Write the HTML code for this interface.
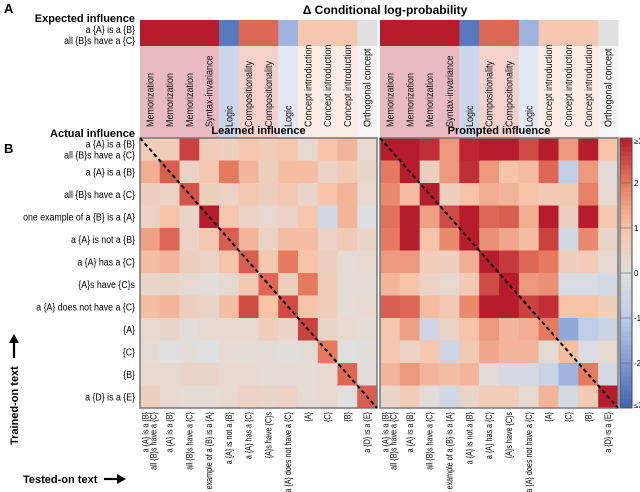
<!DOCTYPE html>
<html><head><meta charset="utf-8"><style>
html,body{margin:0;padding:0;background:#fff;overflow:hidden;}
svg{display:block;font-family:"Liberation Sans",Arial,sans-serif;}
</style></head><body>
<svg id="fig" width="640" height="492" viewBox="0 0 640 492">
<g id="static">
<text x="4" y="13" font-size="13" font-weight="bold">A</text>
<text x="385" y="14" font-size="12" font-weight="bold" text-anchor="middle">Δ Conditional log-probability</text>
<text x="135" y="22" font-size="11" font-weight="bold" text-anchor="end">Expected influence</text>
<text transform="translate(135,33) scale(0.88,1)" font-size="10" text-anchor="end">a {A} is a {B}</text>
<text transform="translate(135,44) scale(0.88,1)" font-size="10" text-anchor="end">all {B}s have a {C}</text>
<text x="135" y="137" font-size="11" font-weight="bold" text-anchor="end">Actual influence</text>
<text x="4" y="153" font-size="13" font-weight="bold">B</text>
<text transform="translate(18,445) rotate(-90)" font-size="11" font-weight="bold">Trained-on text</text>
<g><line x1="14" y1="358" x2="14" y2="340" stroke="#000" stroke-width="2.2"/><path d="M9,343 L14,334 L19,343 Z" fill="#000"/></g>
<text x="23" y="483" font-size="11" font-weight="bold">Tested-on text</text>
<g><line x1="104" y1="479" x2="120" y2="479" stroke="#000" stroke-width="2.2"/><path d="M117,474 L126,479 L117,484 Z" fill="#000"/></g>
</g>
<g id="top"></g>
<g id="mats"></g>
<g id="cbar"></g>
</svg>
<script>
const NS="http://www.w3.org/2000/svg";
// ---- data ----
const categories=["a {A} is a {B} | all {B}s have a {C}","a {A} is a {B}","all {B}s have a {C}","one example of a {B} is a {A}","a {A} is not a {B}","a {A} has a {C}","{A}s have {C}s","a {A} does not have a {C}","{A}","{C}","{B}","a {D} is a {E}"];
const expectedLabels=["Memorization","Memorization","Memorization","Syntax-invariance","Logic","Compositionality","Compositionality","Logic","Concept introduction","Concept introduction","Concept introduction","Orthogonal concept"];
const expectedValues=[3,3,3,3,-2.6,2.2,2.2,-1.5,0.9,0.9,0.9,0];
const learned=[
[0.7,0.7,2.6,0.7,0.6,0.9,0.7,0.9,0.3,1.0,1.2,0.3],
[1.3,2.3,0.5,0.9,2.0,1.2,0.6,1.1,1.1,0.5,0.8,0.4],
[0.6,0.5,2.4,0.6,0.5,0.8,0.6,0.8,0.4,1.0,1.2,0.3],
[0.5,1.0,0.4,3.0,0.9,0.5,0.3,0.5,0.9,-0.4,1.2,-0.1],
[1.5,2.2,0.5,0.9,2.3,1.2,0.5,1.1,1.1,0.5,0.8,0.4],
[1.1,1.2,0.6,0.5,1.0,2.3,0.9,2.0,1.0,0.6,0.2,0.3],
[0.4,0.4,0.3,0.1,0.3,0.8,2.2,0.6,2.0,0.7,0.2,0.2],
[1.1,1.2,0.6,0.4,1.1,2.5,1.0,2.5,1.0,0.7,0.2,0.3],
[0.3,0.4,0.1,0.3,0.3,0.3,0.7,0.4,2.6,0.4,0.3,0.2],
[0.2,0.0,0.1,0.0,0.2,0.2,0.2,0.1,0.2,2.0,0.0,0.1],
[0.3,0.3,0.4,0.4,0.3,0.3,0.2,0.2,0.2,0.3,2.2,0.1],
[0.6,0.3,0.2,0.2,0.3,0.5,0.4,0.5,0.2,0.3,0.0,2.3]];
const prompted=[
[3,3,2.8,1.6,2.9,3,3,2.5,3,1.6,3,1.0],
[2.0,3,0.6,1.6,2.8,1.6,1.0,1.1,2.2,-0.8,1.6,0.2],
[1.8,1.1,3,0.6,1.0,1.3,1.2,1.0,0.8,0.8,1.9,0.3],
[2.1,3,1.5,2.5,3,2.2,2.3,1.3,3,0.6,3,0.9],
[2.0,3,1.0,1.8,3,1.7,1.4,1.1,2.6,-0.4,1.8,0.4],
[1.6,1.6,0.7,0.6,1.3,3,2.7,2.2,2.0,0.6,0.7,0.3],
[1.2,1.0,0.5,0.3,0.8,2.5,3,1.6,1.7,-0.2,-0.2,-0.3],
[2.3,2.2,1.1,0.8,1.8,3,3,2.6,2.8,1.0,1.0,0.6],
[0.9,1.5,-0.5,0.5,1.0,1.6,1.2,1.3,2.0,-1.7,-0.9,-0.6],
[0.9,0.5,0.9,-0.5,0.8,1.4,1.2,1.2,0.2,1.1,-0.2,0.3],
[1.2,1.6,1.2,1.1,1.2,0.1,-0.3,-0.3,-0.6,-1.5,2.0,-0.3],
[0.4,0.7,0.1,-0.4,0.4,0.7,0.7,0.3,1.2,-0.3,0.8,3]];
const cbarTicks=["≥3","2","1","0","-1","-2","≤3"];
const cbarTickValues=[3,2,1,0,-1,-2,-3];
// ---- scales ----
const top0=138, bot0=408, n=12;
const panels=[{x0:140,x1:377,data:learned,title:"Learned influence",key:"learned"},{x0:380,x1:618,data:prompted,title:"Prompted influence",key:"prompted"}];
const yScale=v=>top0+(3-v)/6*(bot0-top0);
const stops=[[-3,[64,98,176]],[-2,[127,154,211]],[-1,[188,203,232]],[0,[223,223,223]],[1,[247,196,168]],[2,[229,122,95]],[3,[183,28,44]]];
function color(v){v=Math.max(-3,Math.min(3,v));for(let i=0;i<stops.length-1;i++){const [a,ca]=stops[i],[b,cb]=stops[i+1];if(v<=b){const t=(v-a)/(b-a);return 'rgb('+ca.map((c,k)=>Math.round(c+(cb[k]-c)*t)).join(',')+')';}}return 'rgb(183,28,44)';}
function tint(v,a){const c=color(v).match(/\d+/g).map(Number);return 'rgb('+c.map(x=>Math.round(x*a+255*(1-a))).join(',')+')';}
function el(tag,attrs,parent){const e=document.createElementNS(NS,tag);for(const k in attrs)e.setAttribute(k,attrs[k]);parent.appendChild(e);return e;}
const gTop=document.getElementById('top'),gM=document.getElementById('mats'),gC=document.getElementById('cbar');
panels.forEach((p)=>{
  const cw=(p.x1-p.x0)/n, rh=(bot0-top0)/n;
  expectedValues.forEach((v,j)=>{
    const x=p.x0+j*cw;
    const r=el('rect',{x:x,y:20,width:cw+0.5,height:26,fill:color(v)},gTop);
    
    
    const b=el('rect',{x:x,y:46,width:cw+0.5,height:92,fill:tint(v,0.3)},gTop);
    
    
    const t=el('text',{transform:'translate('+(x+cw/2+3.5)+',127) rotate(-90) scale(0.9,1)','font-size':'10',fill:'#111'},gTop);
    t.textContent=expectedLabels[j];
    
    
  });
  const tt=el('text',{x:(p.x0+p.x1)/2,y:134,'font-size':'11','font-weight':'bold','text-anchor':'middle'},gTop);
  tt.textContent=p.title;
  
  
  p.data.forEach((row,i)=>row.forEach((v,j)=>{
    const r=el('rect',{x:p.x0+j*cw,y:top0+i*rh,width:cw+0.4,height:rh+0.4,fill:color(v)},gM);
    
    
  }));
  const fr=el('rect',{x:p.x0,y:top0,width:p.x1-p.x0,height:bot0-top0,fill:'none',stroke:'#777','stroke-width':1.5},gM);
  
  
  const dl=el('line',{x1:p.x0,y1:top0,x2:p.x1,y2:bot0,stroke:'#000','stroke-width':2,'stroke-dasharray':'4,3'},gM);
  
  
  categories.forEach((c,j)=>{
    const cx=p.x0+j*cw+cw/2;
    const parts=c.split(' | ');
    parts.forEach((s,k)=>{
      const off=parts.length>1?(k===0?-1.5:6.5):3;
      const t=el('text',{transform:'translate('+(cx+off)+',412) rotate(-90) scale(0.8,1)','font-size':'9','text-anchor':'end'},gM);
      t.textContent=s;
      
      
    });
  });
});
{const rh=(bot0-top0)/n;
categories.forEach((c,i)=>{
  const cy=top0+i*rh+rh/2;
  const parts=c.split(' | ');
  parts.forEach((s,k)=>{
    const off=parts.length>1?(k===0?-2:9):3.5;
    const t=el('text',{transform:'translate(135,'+(cy+off)+') scale(0.88,1)','font-size':'10','text-anchor':'end'},gM);
    t.textContent=s;
    
    
  });
});}
for(let k=0;k<60;k++){
  const v=3-(k+0.5)*0.1;
  const r=el('rect',{x:620,y:yScale(3-k*0.1),width:12,height:(bot0-top0)/60+0.5,fill:color(v)},gC);
  
  
}
const cf=el('rect',{x:620,y:top0,width:12,height:bot0-top0,fill:'none',stroke:'#444','stroke-width':1},gC);


cbarTicks.forEach((lab,k)=>{
  const y=yScale(cbarTickValues[k]);
  const l=el('line',{x1:620,x2:632,y1:y,y2:y,stroke:'#666','stroke-width':0.6},gC);
  
  
  const t=el('text',{x:634,y:Math.min(Math.max(y+3,top0+6),bot0),'font-size':'8'},gC);
  t.textContent=lab;
  
  
});
</script>
</body></html>
